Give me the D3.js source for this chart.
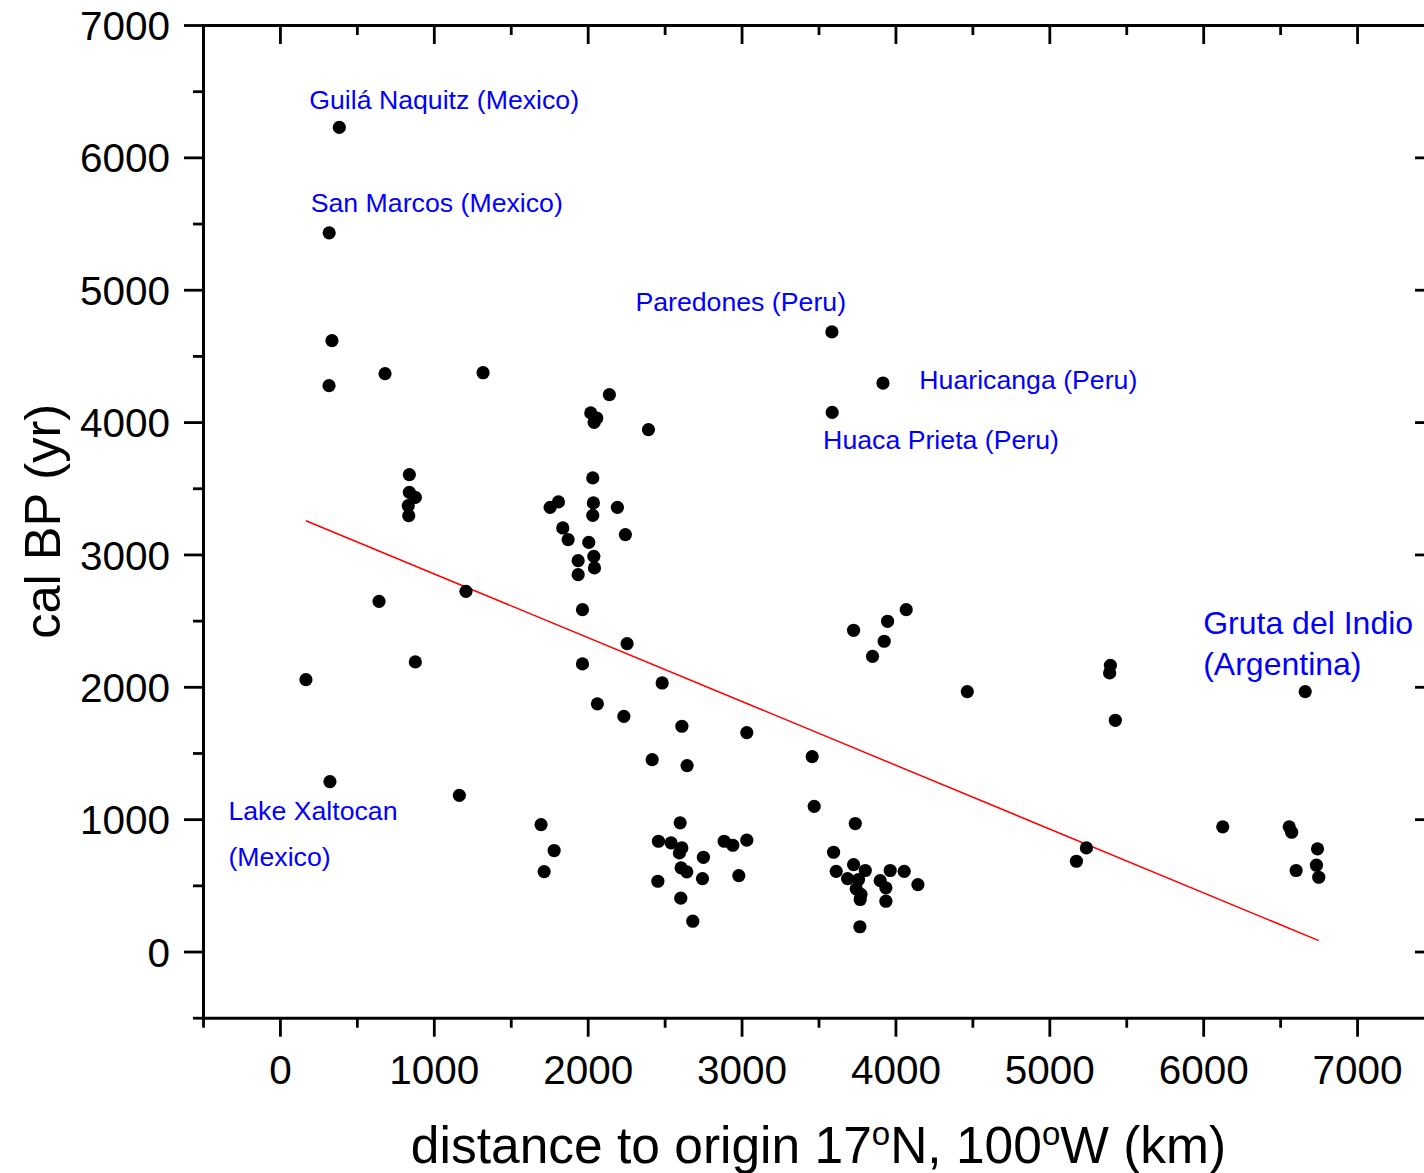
<!DOCTYPE html>
<html>
<head>
<meta charset="utf-8">
<script src="https://cdn.jsdelivr.net/npm/d3@7"></script>
<style>
  body { margin: 0; background: #fff; }
  svg { display: block; font-family: "Liberation Sans", Arial, sans-serif; }
  .domain { stroke-width: 3; stroke-linecap: square; }
  .tick line { stroke-width: 2.8; }
</style>
</head>
<body>
<div id="chart"></div>
<script>
// distance to origin (km) and calibrated age (cal BP) for each site
const distanceKm = [
  386, 320, 338, 319, 683, 1320, 169, 325, 644, 880, 1166, 1209,
  841, 841, 880, 834, 837,
  2141, 2020, 2059, 2042, 2395, 2033, 1810, 1756, 2037, 2033, 2193,
  1838, 1873, 2245, 2007, 2040, 1938, 2044, 1938, 1966, 2256, 1966,
  2484, 2063, 2235, 2612, 3034, 2419, 2646, 1697, 1782, 1717,
  3587, 3919, 3589, 3728, 3949, 4070, 3927, 3851, 4467, 3459, 3472,
  5397, 5392, 5429, 6663, 5241, 5176, 6127, 6559, 6575, 6743, 6604, 6736, 6751,
  2601, 2460, 2542, 2612, 2596, 2752, 2887, 2943, 3034, 2607, 2644, 2746,
  2982, 2456, 2605, 2683,
  3739, 3598, 3615, 3728, 3804, 3689, 3760, 3745, 3776, 3771, 3901, 3966,
  4057, 4146, 3938, 3938, 3769
];
const calBP = [
  6226, 5430, 4615, 4275, 4366, 4373, 2054, 1284, 2646, 2188, 1180, 2721,
  3603, 3469, 3431, 3369, 3293,
  4207, 4069, 4031, 3998, 3943, 3578, 3397, 3356, 3389, 3295, 3356,
  3200, 3112, 3150, 3091, 2986, 2953, 2898, 2847, 2583, 2326, 2173,
  2029, 1871, 1777, 1702, 1654, 1450, 1405, 959, 763, 604,
  4681, 4295, 4073, 2427, 2495, 2583, 2344, 2230, 1964, 1473, 1097,
  2162, 2105, 1747, 1964, 783, 682, 942, 942, 901, 776, 612, 652, 561,
  972, 833, 821, 783, 745, 712, 833, 803, 841, 632, 602, 551,
  574, 531, 403, 229,
  967, 750, 606, 657, 612, 551, 544, 474, 431, 393, 536, 612,
  606, 506, 481, 380, 187
];

// linear fit
const fitIntercept = 3336;
const fitSlope = -0.4819;

const xMajorTicks = [0, 1000, 2000, 3000, 4000, 5000, 6000, 7000];
const xMinorTicks = [-500, 500, 1500, 2500, 3500, 4500, 5500, 6500, 7500];
const yMajorTicks = [0, 1000, 2000, 3000, 4000, 5000, 6000, 7000];
const yMinorTicks = [-500, 500, 1500, 2500, 3500, 4500, 5500, 6500];

const siteNames = [
  'Guilá Naquitz (Mexico)', 'San Marcos (Mexico)', 'Paredones (Peru)',
  'Huaricanga (Peru)', 'Huaca Prieta (Peru)', 'Gruta del Indio', '(Argentina)',
  'Lake Xaltocan', '(Mexico)'
];

const width = 1424, height = 1173;
const svg = d3.select('#chart').append('svg')
  .attr('width', width)
  .attr('height', height);

const xScale = d3.scaleLinear().domain([-500, 7500]).range([203, 1434]);
const yScale = d3.scaleLinear().domain([-500, 7000]).range([1017.7, 25]);

const tickFont = '40.5px';
const plain = d3.format('d');

// left axis (outward ticks)
svg.append('g')
  .attr('transform', `translate(${xScale.range()[0]},0)`)
  .call(d3.axisLeft(yScale).tickValues(yMinorTicks).tickSize(10).tickSizeOuter(0).tickFormat(''))
  .call(g => g.select('.domain').remove());
svg.append('g')
  .attr('transform', `translate(${xScale.range()[0]},0)`)
  .call(d3.axisLeft(yScale).tickValues(yMajorTicks).tickSize(19).tickSizeOuter(0).tickPadding(14).tickFormat(plain))
  .call(g => g.selectAll('text').attr('font-size', tickFont).attr('fill', '#000').attr('dy', '0.36em'))
  .attr('font-family', null);

// bottom axis (outward ticks)
svg.append('g')
  .attr('transform', `translate(0,${yScale.range()[0]})`)
  .call(d3.axisBottom(xScale).tickValues(xMinorTicks).tickSize(10).tickSizeOuter(0).tickFormat(''))
  .call(g => g.select('.domain').remove());
svg.append('g')
  .attr('transform', `translate(0,${yScale.range()[0]})`)
  .call(d3.axisBottom(xScale).tickValues(xMajorTicks).tickSize(19).tickSizeOuter(0).tickPadding(19).tickFormat(plain))
  .call(g => g.selectAll('text').attr('font-size', tickFont).attr('fill', '#000'))
  .attr('font-family', null);

// top and right axes (inward ticks, no labels)
svg.append('g')
  .attr('transform', `translate(0,${yScale.range()[1]})`)
  .call(d3.axisTop(xScale).tickValues(xMinorTicks).tickSize(-10).tickSizeOuter(0).tickFormat(''))
  .call(g => g.select('.domain').remove());
svg.append('g')
  .attr('transform', `translate(0,${yScale.range()[1]})`)
  .call(d3.axisTop(xScale).tickValues(xMajorTicks).tickSize(-19).tickSizeOuter(0).tickFormat(''));
svg.append('g')
  .attr('transform', `translate(${xScale.range()[1]},0)`)
  .call(d3.axisRight(yScale).tickValues(yMinorTicks).tickSize(-10).tickSizeOuter(0).tickFormat(''))
  .call(g => g.select('.domain').remove());
svg.append('g')
  .attr('transform', `translate(${xScale.range()[1]},0)`)
  .call(d3.axisRight(yScale).tickValues(yMajorTicks).tickSize(-19).tickSizeOuter(0).tickFormat(''));

// regression line over the data extent
const xExtent = d3.extent(distanceKm);
const fitLine = d3.line()
  .x(d => xScale(d))
  .y(d => yScale(fitIntercept + fitSlope * d));
svg.append('path')
  .datum(xExtent)
  .attr('d', fitLine)
  .attr('fill', 'none')
  .attr('stroke', '#ff0000')
  .attr('stroke-width', 1.5);

// points
svg.append('g')
  .selectAll('circle')
  .data(distanceKm.map((d, i) => [d, calBP[i]]))
  .join('circle')
    .attr('cx', d => xScale(d[0]))
    .attr('cy', d => yScale(d[1]))
    .attr('r', 6.6)
    .attr('fill', '#000');

// site annotations, placed in data units
const annotations = [
  { x: 190, y: 6366, size: 26.7 },
  { x: 200, y: 5590, size: 26.7 },
  { x: 2310, y: 4840, size: 26.7 },
  { x: 4155, y: 4250, size: 26.7 },
  { x: 3530, y: 3800, size: 26.7 },
  { x: 6000, y: 2400, size: 32 },
  { x: 6000, y: 2090, size: 32 },
  { x: -335, y: 990, size: 26.7 },
  { x: -335, y: 645, size: 26.7 }
];
svg.append('g')
  .selectAll('text')
  .data(annotations)
  .join('text')
    .attr('x', d => xScale(d.x))
    .attr('y', d => yScale(d.y))
    .attr('font-size', d => d.size)
    .attr('fill', '#0000ff')
    .text((d, i) => siteNames[i]);

// axis titles
const xTitle = svg.append('text')
  .attr('x', d3.mean(xScale.range()))
  .attr('y', 1163)
  .attr('text-anchor', 'middle')
  .attr('font-size', 51.5);
xTitle.append('tspan').text('distance to origin 17');
xTitle.append('tspan').attr('font-size', 33).attr('dy', -18).text('o');
xTitle.append('tspan').attr('dy', 18).text('N, 100');
xTitle.append('tspan').attr('font-size', 33).attr('dy', -18).text('o');
xTitle.append('tspan').attr('dy', 18).text('W (km)');

svg.append('text')
  .attr('transform', `translate(60,${d3.mean(yScale.range())}) rotate(-90)`)
  .attr('text-anchor', 'middle')
  .attr('font-size', 50.5)
  .text('cal BP (yr)');
</script>
</body>
</html>
